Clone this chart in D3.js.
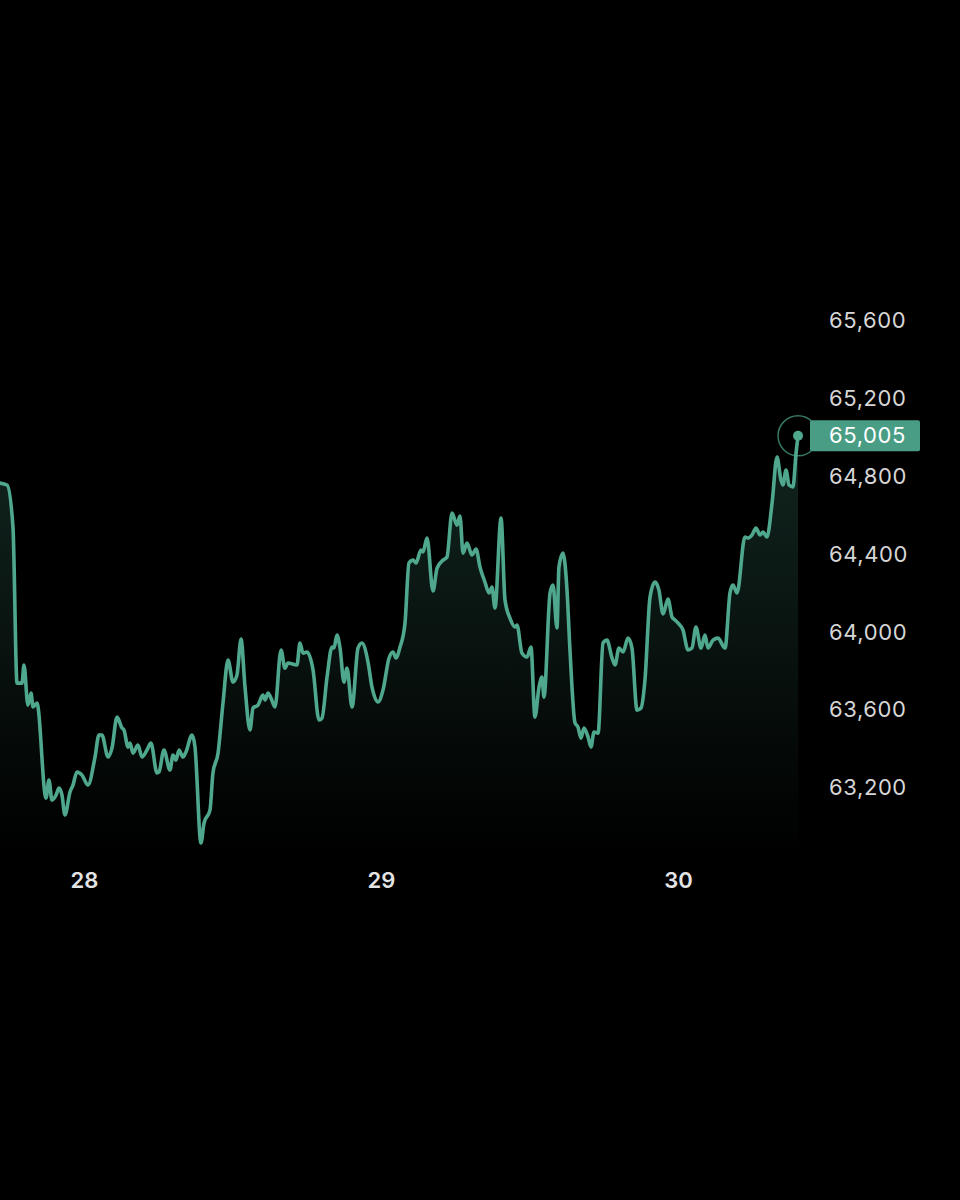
<!DOCTYPE html>
<html>
<head>
<meta charset="utf-8">
<script src="https://cdn.jsdelivr.net/npm/d3@7"></script>
<style>
  html, body { margin: 0; padding: 0; background: #000; }
  svg { display: block; }
</style>
</head>
<body>
<svg id="chart" width="960" height="1200"></svg>
<script>
// hours relative to day 28, 00:00
const hours = [-6.79,-6.22,-5.74,-5.41,-5.01,-4.85,-4.53,-4.28,-4.12,-3.80,-3.07,-2.83,-2.59,-2.26,-2.02,-1.78,-1.54,-1.13,-0.89,-0.57,-0.16,0.32,0.89,1.21,1.45,1.94,2.26,2.67,3.07,3.23,3.56,3.72,3.96,4.36,4.69,5.09,5.41,5.90,6.06,6.46,6.95,7.19,7.43,7.68,8.00,8.24,8.73,8.97,9.45,9.70,10.18,10.42,10.83,11.23,11.64,12.04,12.36,12.69,13.01,13.41,13.66,14.06,14.46,14.63,14.87,15.11,15.43,15.92,16.24,16.48,17.21,17.45,17.70,18.02,18.51,18.99,19.23,19.64,20.04,20.20,20.44,20.69,21.01,21.25,21.66,22.14,22.46,22.95,23.27,23.76,24.16,24.65,24.97,25.21,25.54,25.94,26.26,26.59,26.83,27.23,27.39,27.72,28.20,28.53,29.01,29.33,29.74,30.14,30.38,30.63,30.95,31.35,31.68,32.00,32.40,32.73,32.97,33.21,33.70,34.02,34.42,34.83,34.99,35.39,35.80,36.12,36.44,36.77,37.01,37.17,37.66,37.90,38.22,38.38,38.71,39.03,39.27,39.68,39.92,40.16,40.40,40.73,40.97,41.21,41.54,41.94,42.26,42.67,42.91,43.23,43.56,43.96,44.28,44.69,45.01,45.33,45.74,46.14,46.46,46.79,47.19,47.52,47.76,48.00,48.40,48.81,49.13,49.45,49.86,50.18,50.42,50.83,51.23,51.80,52.20,52.44,52.77,53.41,53.66,53.98,54.30,54.63,54.87,55.19,55.60,56.00,56.32,56.48,56.73,56.97,57.29,57.54,57.70];

const prices = [64762,64752,64536,63734,63734,63827,63621,63683,63611,63631,63143,63236,63133,63158,63194,63158,63056,63174,63210,63277,63261,63210,63354,63467,63467,63354,63400,63559,63503,63493,63405,63426,63374,63415,63354,63390,63426,63272,63277,63390,63287,63364,63338,63390,63354,63380,63467,63405,62912,63015,63081,63272,63374,63631,63852,63739,63775,63960,63714,63493,63606,63621,63672,63647,63683,63657,63611,63904,63811,63837,63827,63940,63888,63894,63801,63544,63554,63765,63919,63914,63981,63914,63739,63811,63611,63914,63940,63842,63714,63637,63698,63863,63894,63863,63919,64043,64351,64366,64351,64418,64408,64479,64207,64325,64366,64382,64608,64546,64593,64402,64454,64392,64423,64330,64253,64197,64228,64120,64582,64161,64068,64022,64032,63888,63868,63919,63559,63714,63765,63662,64197,64238,64017,64330,64402,64212,63904,63529,63508,63451,63503,63457,63405,63482,63477,63940,63955,63863,63827,63914,63894,63965,63914,63595,63606,63750,64176,64253,64212,64089,64166,64073,64058,64043,64007,63904,63914,64022,63914,63981,63914,63955,63965,63914,64197,64238,64197,64485,64479,64495,64531,64495,64510,64485,64659,64896,64778,64752,64829,64752,64742,64916,65005];

const dayTickHours = [0, 24, 48];
const dayTickLabels = ["28", "29", "30"];
const priceTicks = [63200, 63600, 64000, 64400, 64800, 65200, 65600];
const lastLabel = "65,005";

const data = hours.map((h, i) => ({ h, p: prices[i] }));

const svg = d3.select("#chart");
const lineColor = "#4fa88e";
const fontStack = "Inter, 'Noto Sans', sans-serif";

const x = d3.scaleLinear().domain([0, 48]).range([84, 678]);
const y = d3.scaleLinear().domain([63200, 65600]).range([787, 320]);
const baseY = 852;

const defs = svg.append("defs");
const grad = defs.append("linearGradient")
  .attr("id", "areaGrad")
  .attr("gradientUnits", "userSpaceOnUse")
  .attr("x1", 0).attr("x2", 0)
  .attr("y1", y(65005)).attr("y2", baseY);
grad.append("stop").attr("offset", "0%").attr("stop-color", lineColor).attr("stop-opacity", 0.22);
grad.append("stop").attr("offset", "55%").attr("stop-color", lineColor).attr("stop-opacity", 0.1);
grad.append("stop").attr("offset", "100%").attr("stop-color", lineColor).attr("stop-opacity", 0.0);

const curve = d3.curveMonotoneX;

const area = d3.area()
  .curve(curve)
  .x(d => x(d.h))
  .y0(baseY)
  .y1(d => y(d.p));

svg.append("path")
  .datum(data)
  .attr("d", area)
  .attr("fill", "url(#areaGrad)");

const line = d3.line()
  .curve(curve)
  .x(d => x(d.h))
  .y(d => y(d.p));

svg.append("path")
  .datum(data)
  .attr("d", line)
  .attr("fill", "none")
  .attr("stroke", lineColor)
  .attr("stroke-width", 3.6)
  .attr("stroke-linejoin", "round")
  .attr("stroke-linecap", "round");

// Y axis labels (right)
const yAxis = d3.axisRight(y)
  .tickValues(priceTicks)
  .tickFormat(d3.format(","))
  .tickSize(0)
  .tickPadding(0);
const yg = svg.append("g")
  .attr("transform", "translate(829,0)")
  .call(yAxis);
yg.select(".domain").remove();
yg.selectAll("text")
  .attr("fill", "#d6d6d6")
  .attr("font-family", fontStack)
  .attr("font-size", 22)
  .attr("letter-spacing", "0.6px")
  .attr("dy", "0.35em");

// X axis labels (bottom)
const xAxis = d3.axisBottom(x)
  .tickValues(dayTickHours)
  .tickFormat((d, i) => dayTickLabels[i])
  .tickSize(0)
  .tickPadding(0);
const xg = svg.append("g")
  .attr("transform", "translate(0,880)")
  .call(xAxis);
xg.select(".domain").remove();
xg.selectAll("text")
  .attr("fill", "#e4e4e4")
  .attr("font-family", fontStack)
  .attr("font-size", 22)
  .attr("font-weight", 600)
  .attr("dy", "0.35em");

// Last point marker
const last = data[data.length - 1];
const lx = x(last.h), ly = y(last.p);
svg.append("circle")
  .attr("cx", lx).attr("cy", ly).attr("r", 20)
  .attr("fill", "none")
  .attr("stroke", lineColor)
  .attr("stroke-opacity", 0.7)
  .attr("stroke-width", 1.5);
svg.append("circle")
  .attr("cx", lx).attr("cy", ly).attr("r", 5)
  .attr("fill", lineColor);

// Last price label
svg.append("rect")
  .attr("x", 810).attr("y", ly - 15.5)
  .attr("width", 110).attr("height", 31)
  .attr("rx", 2)
  .attr("fill", "#4a9d85");
svg.append("text")
  .attr("x", 829).attr("y", ly)
  .attr("dy", "0.35em")
  .attr("fill", "#ffffff")
  .attr("font-family", fontStack)
  .attr("font-size", 22)
  .attr("letter-spacing", "0.6px")
  .text(lastLabel);
</script>
</body>
</html>
